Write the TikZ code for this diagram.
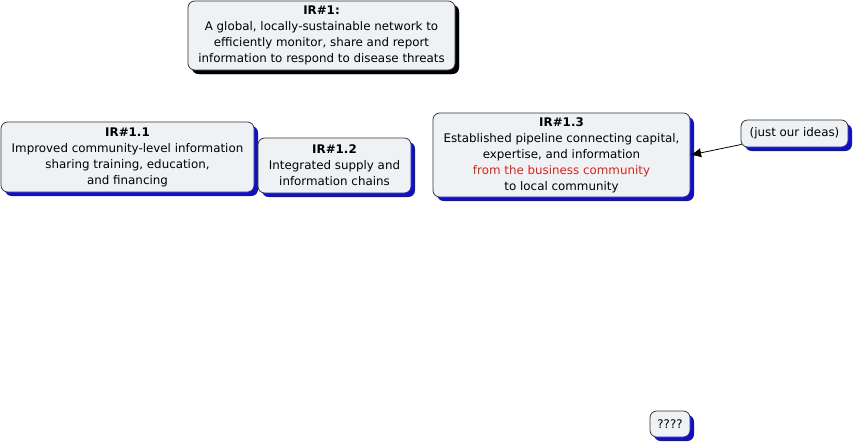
\documentclass[tikz,border=0pt]{standalone}
\usepackage{fontspec}
\setmainfont{DejaVu Sans}
\usetikzlibrary{shadows,arrows.meta}
\definecolor{boxfill}{HTML}{EEF2F4}
\definecolor{shadowblue}{HTML}{1010C8}
\definecolor{ideared}{HTML}{E0201C}
\begin{document}
\begin{tikzpicture}[x=0.75pt, y=-0.75pt,
    irbox/.style={draw=black!80, fill=boxfill, rounded corners=5pt, align=center,
        inner sep=0pt, font=\fontsize{8.9}{12}\selectfont, line width=0.6pt,
        drop shadow={shadow xshift=3pt, shadow yshift=-3pt, fill=shadowblue, opacity=1}},
    topbox/.style={irbox, drop shadow={shadow xshift=3pt, shadow yshift=-3pt, fill=black, opacity=1}}]
    \useasboundingbox (0,0) rectangle (857,443);
    \node[topbox, minimum width=267*0.75pt, minimum height=69*0.75pt] (ir1) at (321.5,35.5)
        {\textbf{IR\#1:}\\A global, locally-sustainable network to\\efficiently monitor, share and report\\information to respond to disease threats};
    \node[irbox, minimum width=253*0.75pt, minimum height=70*0.75pt] (ir11) at (127.5,157)
        {\textbf{IR\#1.1}\\Improved community-level information\\sharing training, education,\\and financing};
    \node[irbox, minimum width=153*0.75pt, minimum height=55*0.75pt] (ir12) at (334.5,165.5)
        {\textbf{IR\#1.2}\\Integrated supply and\\information chains};
    \node[irbox, minimum width=257*0.75pt, minimum height=84*0.75pt] (ir13) at (561.5,155)
        {\textbf{IR\#1.3}\\Established pipeline connecting capital,\\expertise, and information\\\textcolor{ideared}{from the business community}\\to local community};
    \node[irbox, minimum width=107*0.75pt, minimum height=27*0.75pt] (ideas) at (794.5,133.5)
        {(just our ideas)};
    \node[irbox, minimum width=40*0.75pt, minimum height=26*0.75pt] (qq) at (670,424)
        {????};
    \draw[-{Latex[length=8pt,width=7pt]}, line width=0.6pt] (ideas.south west) ++(1,-3) -- (ir13.east);
\end{tikzpicture}
\end{document}
